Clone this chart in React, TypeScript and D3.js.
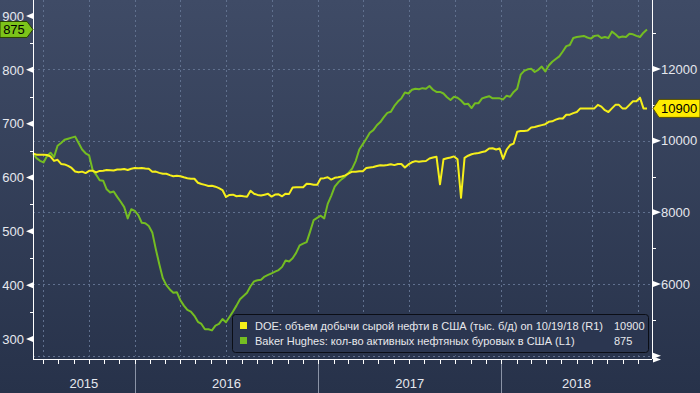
import React, { useEffect, useRef } from 'react';
import * as d3 from 'd3';

const W = 700;
const H = 393;
const FONT = "'Liberation Sans', Arial, sans-serif";

// weekly values, every Friday from this date on
const FIRST_WEEK = new Date(Date.UTC(2015, 5, 12));

// Baker Hughes oil rigs (left axis)
const rigs2015 = [645, 636, 631, 628, 640, 646, 638, 659, 664, 670, 672, 674, 676, 664, 652, 645, 641, 614, 605, 595, 594, 578, 572, 574, 564, 555, 545, 524, 541];
const rigs2016 = [538, 530, 516, 515, 510, 498, 467, 439, 413, 400, 392, 386, 387, 372, 362, 354, 351, 343, 332, 328, 318, 318, 316, 325, 328, 337, 331, 341, 351, 362, 374, 380, 386, 398, 407, 409, 410, 416, 419, 422, 425, 428, 434, 446, 444, 450, 460, 474, 477, 480, 500, 521, 525];
const rigs2017 = [529, 524, 551, 566, 583, 591, 597, 602, 609, 617, 631, 652, 662, 672, 683, 688, 697, 703, 712, 720, 722, 733, 741, 747, 758, 756, 763, 765, 764, 766, 765, 770, 763, 759, 759, 756, 749, 744, 750, 748, 743, 736, 737, 729, 738, 738, 747, 749, 751, 747, 747, 747];
const rigs2018 = [745, 752, 750, 759, 765, 791, 798, 801, 802, 796, 800, 806, 797, 808, 815, 820, 825, 834, 844, 846, 859, 861, 862, 863, 860, 858, 863, 864, 859, 861, 859, 871, 866, 860, 862, 861, 867, 866, 863, 861, 869, 875];

// DOE crude output, thousand b/d (right axis)
const output2015 = [9640, 9610, 9604, 9604, 9600, 9558, 9435, 9466, 9352, 9338, 9298, 9238, 9141, 9117, 9136, 9096, 9158, 9161, 9113, 9156, 9163, 9182, 9175, 9167, 9196, 9193, 9208, 9180, 9217];
const output2016 = [9235, 9227, 9235, 9221, 9214, 9135, 9137, 9102, 9077, 9078, 9038, 9008, 9022, 9008, 8977, 8953, 8938, 8938, 8825, 8791, 8767, 8737, 8742, 8716, 8677, 8622, 8428, 8486, 8494, 8449, 8460, 8446, 8437, 8600, 8520, 8486, 8470, 8492, 8516, 8439, 8497, 8504, 8447, 8522, 8515, 8691, 8697, 8701, 8699, 8797, 8791, 8771, 8770];
const output2017 = [8946, 8954, 8980, 8915, 8963, 8977, 9001, 9032, 9088, 9134, 9130, 9147, 9147, 9235, 9252, 9265, 9293, 9314, 9305, 9320, 9342, 9318, 9350, 9350, 9250, 9338, 9397, 9429, 9410, 9423, 9434, 9502, 9528, 9553, 8781, 9480, 9510, 9530, 9561, 9480, 8406, 9520, 9580, 9620, 9645, 9658, 9682, 9707, 9780, 9789, 9754, 9782];
const output2018 = [9492, 9752, 9878, 9919, 10251, 10271, 10273, 10283, 10369, 10381, 10407, 10433, 10460, 10525, 10540, 10586, 10619, 10620, 10723, 10725, 10769, 10800, 10900, 10900, 10900, 10900, 10900, 11000, 10950, 10850, 10800, 10900, 11000, 11000, 10900, 10900, 11000, 11100, 11100, 11200, 10900, 10900];

const LEFT_TICKS = [300, 400, 500, 600, 700, 800, 900];
const LEFT_MINOR = [350, 450, 550, 650, 750, 850];
const RIGHT_TICKS = [6000, 8000, 10000, 12000];
const RIGHT_MINOR = [5000, 7000, 9000, 11000, 13000];
const RIGHT_GRID = [4000, 6000, 8000, 10000, 12000];
const YEARS = [2015, 2016, 2017, 2018];

const YELLOW = '#f5ef1a';
const GREEN = '#74bd22';

const LEGEND = [
  { label: 'DOE: объем добычи сырой нефти в США (тыс. б/д) on 10/19/18 (R1)', color: YELLOW },
  { label: 'Baker Hughes: кол-во активных нефтяных буровых в США (L1)', color: GREEN },
];

export default function App() {
  const svgRef = useRef(null);

  useEffect(() => {
    const svg = d3.select(svgRef.current);
    svg.selectAll('*').remove();

    const rigs = [...rigs2015, ...rigs2016, ...rigs2017, ...rigs2018];
    const output = [...output2015, ...output2016, ...output2017, ...output2018];
    const weeks = rigs.map((_, i) => d3.utcFriday.offset(FIRST_WEEK, i));

    // 1) scales
    const x = d3.scaleUtc()
      .domain([FIRST_WEEK, new Date(Date.UTC(2018, 9, 27))])
      .range([33, 651]);
    const yL = d3.scaleLinear().domain([300, 900]).range([339, 16]);
    const yR = d3.scaleLinear().domain([6000, 12000]).range([284, 69]);
    const left = 33, right = 652;
    const gridBottom = yR(4000);
    const axisY = 359;

    // 2) background
    const grad = svg.append('defs').append('linearGradient')
      .attr('id', 'bg').attr('x1', 0).attr('y1', 0).attr('x2', 0).attr('y2', 1);
    grad.append('stop').attr('offset', '0%').attr('stop-color', '#3f4b66');
    grad.append('stop').attr('offset', '100%').attr('stop-color', '#27324a');
    svg.append('rect').attr('width', W).attr('height', H).attr('fill', 'url(#bg)');

    // 3) dashed grid
    const grid = svg.append('g')
      .attr('stroke', '#60708e').attr('stroke-width', 1).attr('stroke-dasharray', '2,3');
    grid.selectAll('.gy').data(RIGHT_GRID).join('line')
      .attr('x1', left).attr('x2', right)
      .attr('y1', d => Math.round(yR(d)) + 0.5).attr('y2', d => Math.round(yR(d)) + 0.5);
    const quarters = d3.utcMonth.every(3).range(x.domain()[0], x.domain()[1]);
    grid.selectAll('.gx').data(quarters).join('line')
      .attr('x1', d => Math.round(x(d)) + 0.5).attr('x2', d => Math.round(x(d)) + 0.5)
      .attr('y1', 0).attr('y2', gridBottom);

    // 4) lines
    const rigLine = d3.line().x((d, i) => x(weeks[i])).y(d => yL(d));
    const outLine = d3.line().x((d, i) => x(weeks[i])).y(d => yR(d));
    svg.append('path').datum(rigs).attr('d', rigLine)
      .attr('fill', 'none').attr('stroke', GREEN).attr('stroke-width', 2).attr('stroke-linejoin', 'round');
    svg.append('path').datum(output).attr('d', outLine)
      .attr('fill', 'none').attr('stroke', YELLOW).attr('stroke-width', 2).attr('stroke-linejoin', 'round');

    // 5) axes (white lines with arrow ticks)
    const ax = svg.append('g').attr('stroke', '#ffffff').attr('stroke-width', 1);
    ax.append('line').attr('x1', left + 0.5).attr('x2', left + 0.5).attr('y1', 0).attr('y2', axisY);
    ax.append('line').attr('x1', right + 0.5).attr('x2', right + 0.5).attr('y1', 0).attr('y2', axisY);
    ax.append('line').attr('x1', left).attr('x2', right).attr('y1', axisY + 0.5).attr('y2', axisY + 0.5);

    ax.selectAll('.lm').data(LEFT_MINOR).join('line')
      .attr('x1', left - 3).attr('x2', left)
      .attr('y1', d => Math.round(yL(d)) + 0.5).attr('y2', d => Math.round(yL(d)) + 0.5);
    ax.selectAll('.rm').data(RIGHT_MINOR).join('line')
      .attr('x1', right).attr('x2', right + 4)
      .attr('y1', d => Math.round(yR(d)) + 0.5).attr('y2', d => Math.round(yR(d)) + 0.5);

    const arrows = svg.append('g').attr('fill', '#ffffff');
    arrows.selectAll('.la').data(LEFT_TICKS).join('polygon')
      .attr('points', d => { const y = yL(d); return `${left - 7},${y} ${left},${y - 3} ${left},${y + 3}`; });
    arrows.selectAll('.ra').data([...RIGHT_TICKS, 4000]).join('polygon')
      .attr('points', d => { const y = yR(d); return `${right + 9},${y} ${right + 1},${y - 3} ${right + 1},${y + 3}`; });
    arrows.append('polygon')
      .attr('points', `${right + 9},${axisY + 0.5} ${right + 1},${axisY - 2.5} ${right + 1},${axisY + 3.5}`);

    // month ticks on the time axis
    const months = d3.utcMonth.range(d3.utcMonth.ceil(x.domain()[0]), x.domain()[1]);
    ax.selectAll('.mt').data(months).join('line')
      .attr('x1', d => Math.round(x(d)) + 0.5).attr('x2', d => Math.round(x(d)) + 0.5)
      .attr('y1', axisY).attr('y2', axisY + 5);

    // 6) tick labels
    svg.append('g').selectAll('text').data(LEFT_TICKS).join('text')
      .attr('x', 24).attr('y', d => yL(d)).attr('dy', '0.36em')
      .attr('text-anchor', 'end').attr('fill', '#e6e8ee')
      .style('font', `13px ${FONT}`)
      .text(d => d);
    svg.append('g').selectAll('text').data(RIGHT_TICKS).join('text')
      .attr('x', 661).attr('y', d => yR(d)).attr('dy', '0.36em')
      .attr('fill', '#e6e8ee')
      .style('font', `13px ${FONT}`)
      .text(d => d);

    // years row
    const yearStarts = YEARS.slice(1).map(y => new Date(Date.UTC(y, 0, 1)));
    svg.append('g').selectAll('line').data(yearStarts).join('line')
      .attr('x1', d => Math.round(x(d)) + 0.5).attr('x2', d => Math.round(x(d)) + 0.5)
      .attr('y1', axisY + 5).attr('y2', H)
      .attr('stroke', '#8a93a6').attr('stroke-width', 1);
    svg.append('g').selectAll('text').data(YEARS).join('text')
      .attr('x', y => {
        const a = Math.max(left, x(new Date(Date.UTC(y, 0, 1))));
        const b = Math.min(right, x(new Date(Date.UTC(y + 1, 0, 1))));
        return (a + b) / 2;
      })
      .attr('y', 388)
      .attr('text-anchor', 'middle').attr('fill', '#e6e8ee')
      .style('font', `13px ${FONT}`)
      .text(d => d);

    // 7) legend
    const lg = svg.append('g');
    lg.append('rect')
      .attr('x', 232.5).attr('y', 314.5).attr('width', 416).attr('height', 38).attr('rx', 3)
      .attr('fill', '#2b3650').attr('stroke', '#0b0e16');
    const lastValues = [output[output.length - 1], rigs[rigs.length - 1]];
    LEGEND.forEach((item, i) => {
      const cy = 326 + i * 15;
      lg.append('rect').attr('x', 240).attr('y', cy - 4).attr('width', 7).attr('height', 7).attr('fill', item.color);
      lg.append('text').attr('x', 255).attr('y', cy).attr('dy', '0.36em')
        .attr('fill', '#e8e8ec').style('font', `11px ${FONT}`).text(item.label);
      lg.append('text').attr('x', 614).attr('y', cy).attr('dy', '0.36em')
        .attr('fill', '#e8e8ec').style('font', `11px ${FONT}`).text(lastValues[i]);
    });

    // 8) last-value tags
    const gy = yL(lastValues[1]);
    svg.append('polygon')
      .attr('points', `0,${gy - 8} 27,${gy - 8} 33,${gy} 27,${gy + 8} 0,${gy + 8}`)
      .attr('fill', '#7cc41a').attr('stroke', '#2a4200').attr('stroke-width', 1);
    svg.append('text').attr('x', 14).attr('y', gy).attr('dy', '0.36em')
      .attr('text-anchor', 'middle').attr('fill', '#000').style('font', `13px ${FONT}`)
      .text(lastValues[1]);

    const yy = yR(lastValues[0]);
    svg.append('polygon')
      .attr('points', `${right + 1},${yy} ${right + 7},${yy - 9} ${W},${yy - 9} ${W},${yy + 9} ${right + 7},${yy + 9}`)
      .attr('fill', '#ffec00').attr('stroke', '#5a5200').attr('stroke-width', 1);
    svg.append('text').attr('x', 661).attr('y', yy).attr('dy', '0.36em')
      .attr('fill', '#000').style('font', `13px ${FONT}`)
      .text(lastValues[0]);
  }, []);

  return (
    <div style={{ position: 'absolute', left: 0, top: 0, width: W, height: H }}>
      <svg ref={svgRef} width={W} height={H} style={{ display: 'block' }} />
    </div>
  );
}
